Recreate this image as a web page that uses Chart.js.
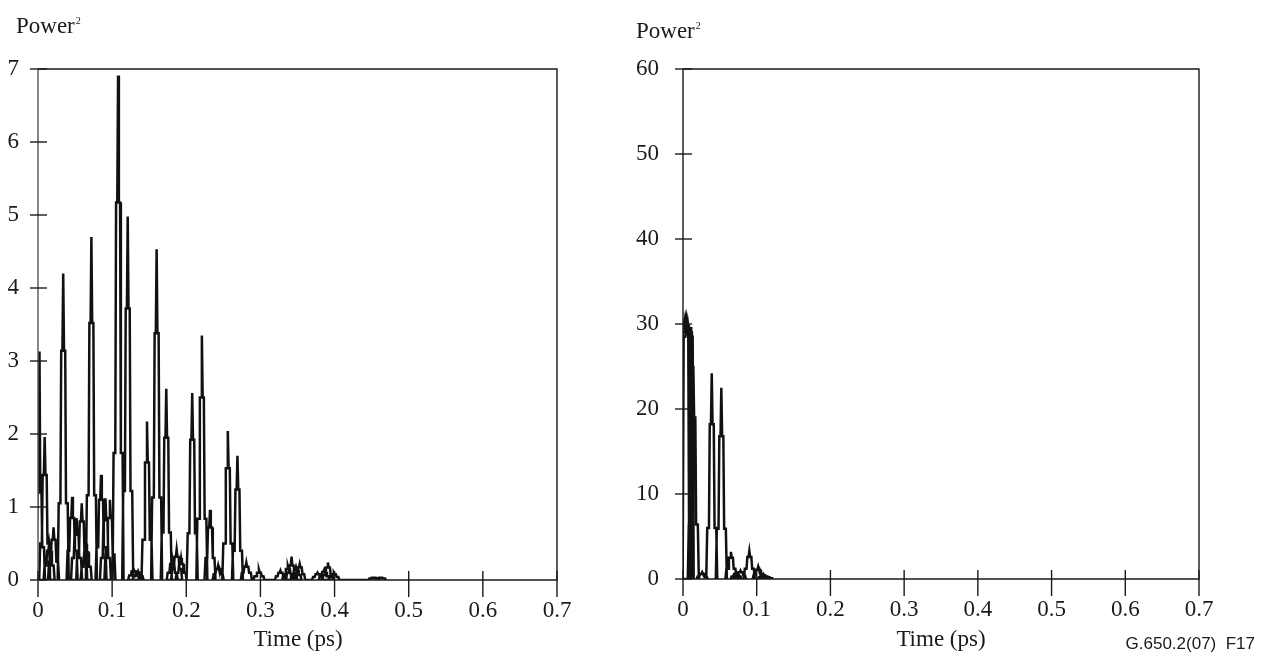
<!DOCTYPE html>
<html><head><meta charset="utf-8">
<script src="https://cdn.jsdelivr.net/npm/chart.js@4.4.0/dist/chart.umd.min.js"></script>
<style>
html,body{margin:0;padding:0;background:#fff;width:1261px;height:652px;overflow:hidden;}
body{position:relative;}
canvas{position:absolute;top:0;}
.t{position:absolute;font-family:'Liberation Serif','Times New Roman',serif;color:#1a1a1a;white-space:nowrap;font-size:23px;line-height:23px;}
.t sup{font-size:10px;position:relative;top:-5px;vertical-align:top;margin-left:1px;}
.c{transform:translateX(-50%);}
.f{position:absolute;font-family:'Liberation Sans',Arial,sans-serif;font-size:17px;line-height:17px;color:#1a1a1a;white-space:nowrap;}
</style></head><body>
<canvas id="cl" width="620" height="652" style="left:0"></canvas>
<canvas id="cr" width="641" height="652" style="left:620px"></canvas>
<div class="t" style="left:16px;top:14px">Power<sup>2</sup></div>
<div class="t" style="left:636px;top:19px">Power<sup>2</sup></div>
<div class="t c" style="left:298px;top:627px">Time (ps)</div>
<div class="t c" style="left:941px;top:627px">Time (ps)</div>
<div class="f" style="right:6px;top:635px">G.650.2(07)&nbsp; F17</div>
<script>
// ---- tick labels ----
const xTickValues = [0, 0.1, 0.2, 0.3, 0.4, 0.5, 0.6, 0.7];
const xTickLabels = ['0', '0.1', '0.2', '0.3', '0.4', '0.5', '0.6', '0.7'];
const leftYTicks = [0, 1, 2, 3, 4, 5, 6, 7];
const rightYTicks = [0, 10, 20, 30, 40, 50, 60];

// ---- left panel: pulse peaks (time ps, peak, upper shoulder, lower shoulder) ----
const leftTime = [0.002,0.009,0.015,0.021,0.034,0.046,0.052,0.059,0.065,0.072,0.085,0.091,0.097,0.108,0.121,0.129,0.135,0.147,0.160,0.173,0.181,0.187,0.193,0.208,0.221,0.232,0.243,0.256,0.269,0.281,0.298,0.327,0.337,0.342,0.348,0.353,0.377,0.386,0.391,0.399,0.453,0.462];
const leftPeak = [3.13,1.96,0.50,0.72,4.20,1.14,0.85,1.05,0.50,4.70,1.44,1.12,1.10,6.91,4.98,0.15,0.12,2.17,4.53,2.62,0.30,0.42,0.30,2.56,3.35,0.96,0.20,2.04,1.70,0.24,0.14,0.13,0.19,0.32,0.18,0.22,0.10,0.14,0.24,0.10,0.03,0.03];
const leftMid = [1.20,1.44,0.40,0.55,3.14,0.85,0.62,0.80,0.38,3.52,1.10,0.82,0.85,5.17,3.72,0.12,0.09,1.61,3.38,1.95,0.22,0.32,0.22,1.92,2.50,0.72,0.15,1.53,1.24,0.18,0.10,0.10,0.15,0.20,0.14,0.17,0.08,0.11,0.17,0.08,0.03,0.03];
const leftLow = [0.45,0.50,0.20,0.25,1.05,0.40,0.30,0.35,0.18,1.16,0.45,0.30,0.35,1.74,1.22,0.06,0.05,0.55,1.13,0.65,0.10,0.15,0.10,0.64,0.84,0.30,0.08,0.50,0.40,0.10,0.05,0.05,0.08,0.10,0.07,0.08,0.04,0.05,0.07,0.04,0.02,0.02];

// ---- right panel ----
const rightTime = [0.001,0.002,0.003,0.004,0.005,0.006,0.007,0.014,0.026,0.039,0.052,0.065,0.072,0.078,0.090,0.102,0.109,0.115];
const rightPeak = [30.0,30.4,30.8,31.2,30.6,30.2,29.8,25.1,0.8,24.2,22.5,3.2,0.8,1.0,3.3,1.45,0.6,0.3];
const rightMid = [29.5,30.0,30.2,30.0,29.8,29.5,29.0,19.0,0.6,18.2,16.8,2.5,0.6,0.8,2.6,1.1,0.45,0.2];
const rightLow = [29.0,29.5,29.5,29.5,29.5,29.0,28.5,6.4,0.3,6.0,5.9,1.2,0.3,0.4,1.2,0.5,0.2,0.1];

// outline of each pulse (stepped "pagoda" outline as in the original plot)
function buildTrace(times, peaks, mids, lows, u) {
  const pts = [];
  for (let i = 0; i < times.length; i++) {
    const t = times[i];
    pts.push({x: t - 5.5*u, y: 0});
    pts.push({x: t - 4.5*u, y: lows[i]});
    pts.push({x: t - 2.8*u, y: lows[i]});
    pts.push({x: t - 2.0*u, y: mids[i]});
    pts.push({x: t - 0.8*u, y: mids[i]});
    pts.push({x: t, y: peaks[i]});
    pts.push({x: t + 0.8*u, y: mids[i]});
    pts.push({x: t + 2.0*u, y: mids[i]});
    pts.push({x: t + 2.8*u, y: lows[i]});
    pts.push({x: t + 4.5*u, y: lows[i]});
    pts.push({x: t + 5.5*u, y: 0});
  }
  return pts;
}

const frame = {
  id: 'frame',
  afterDraw(chart, args, opts) {
    const {ctx, chartArea: a, scales: {x, y}} = chart;
    ctx.save();
    ctx.lineCap = 'butt';
    ctx.lineWidth = 1.4;
    ctx.strokeStyle = '#1a1a1a';
    ctx.beginPath();
    ctx.moveTo(a.left, a.top); ctx.lineTo(a.right, a.top);
    ctx.lineTo(a.right, a.bottom); ctx.lineTo(a.left, a.bottom);
    ctx.stroke();
    ctx.strokeStyle = opts.leftColor;
    ctx.beginPath(); ctx.moveTo(a.left, a.top); ctx.lineTo(a.left, a.bottom); ctx.stroke();
    ctx.strokeStyle = '#1a1a1a';
    x.ticks.forEach(t => {
      const p = x.getPixelForValue(t.value);
      ctx.beginPath(); ctx.moveTo(p, a.bottom - 9); ctx.lineTo(p, a.bottom + 17); ctx.stroke();
    });
    y.ticks.forEach(t => {
      const p = y.getPixelForValue(t.value);
      ctx.beginPath(); ctx.moveTo(a.left - 8, p); ctx.lineTo(a.left + 9, p); ctx.stroke();
    });
    ctx.restore();
  }
};

const tickFont = {family: "'Liberation Serif','Times New Roman',serif", size: 23};

function makeChart(id, cfg) {
  return new Chart(document.getElementById(id), {
    type: 'scatter',
    data: {datasets: [{
      data: cfg.data, showLine: true, borderColor: '#111', borderWidth: 2.5,
      pointRadius: 0, tension: 0, fill: false
    }]},
    options: {
      responsive: false, animation: false,
      layout: {padding: {top: 69, right: cfg.padRight, left: 0, bottom: 0}},
      plugins: {legend: {display: false}, tooltip: {enabled: false}, frame: {leftColor: cfg.leftColor}},
      scales: {
        x: {
          type: 'linear', min: 0, max: 0.7,
          grid: {display: false, drawTicks: false}, border: {display: false},
          afterBuildTicks: s => { s.ticks = xTickValues.map(v => ({value: v})); },
          ticks: {color: '#1a1a1a', font: tickFont, padding: 17, maxRotation: 0, autoSkip: false,
            callback: (v, i) => xTickLabels[i]},
          afterFit: s => { s.height = cfg.xHeight; }
        },
        y: {
          min: 0, max: cfg.yTicks[cfg.yTicks.length - 1],
          grid: {display: false, drawTicks: false}, border: {display: false},
          afterBuildTicks: s => { s.ticks = cfg.yTicks.map(v => ({value: v})); },
          ticks: {color: '#1a1a1a', font: tickFont, padding: cfg.yPad, autoSkip: false,
            callback: v => String(v)},
          afterFit: s => { s.width = cfg.yWidth; }
        }
      }
    },
    plugins: [frame]
  });
}

makeChart('cl', {
  data: buildTrace(leftTime, leftPeak, leftMid, leftLow, 0.00135),
  yTicks: leftYTicks, padRight: 63, xHeight: 72, yWidth: 38, yPad: 19, leftColor: '#555'
});
makeChart('cr', {
  data: buildTrace(rightTime, rightPeak, rightMid, rightLow, 0.00136),
  yTicks: rightYTicks, padRight: 62, xHeight: 73, yWidth: 63, yPad: 24, leftColor: '#1a1a1a'
});
</script>
</body></html>
